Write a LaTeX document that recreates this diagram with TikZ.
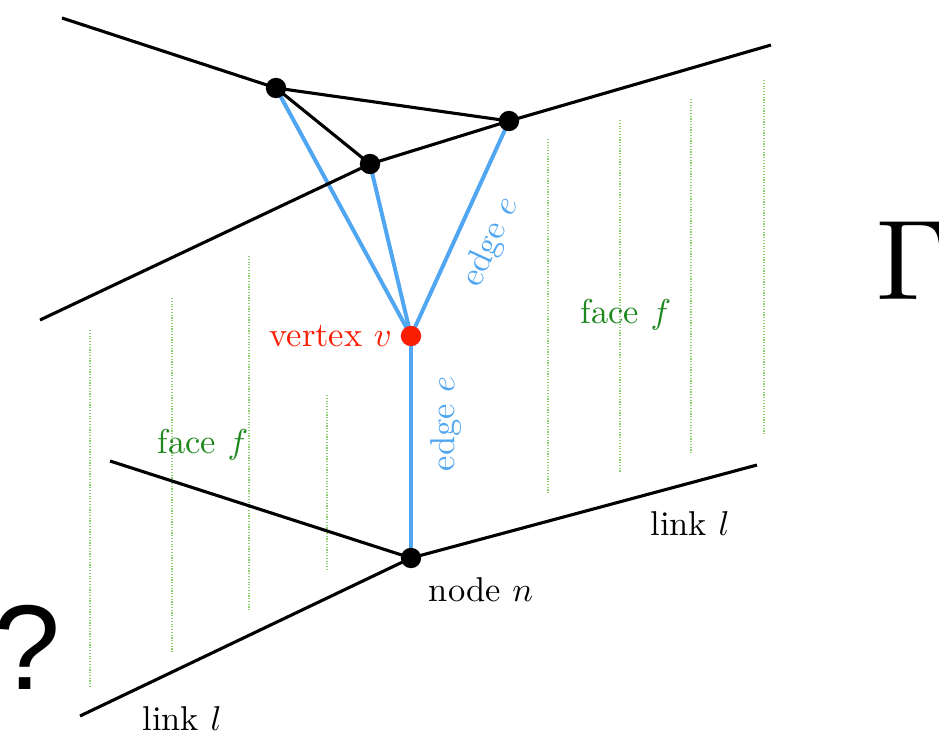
\documentclass[tikz,border=0pt]{standalone}
\usepackage{fontspec}
\newfontfamily\qfont{Liberation Sans}
\definecolor{eblue}{RGB}{80,166,240}
\definecolor{vred}{RGB}{250,30,5}
\definecolor{fgreen}{RGB}{30,135,30}
\definecolor{dgreen}{RGB}{140,205,110}
\begin{document}
\begin{tikzpicture}[x=0.29pt,y=-0.29pt,
  link/.style={draw=black,line width=0.9pt},
  edgeline/.style={draw=eblue,line width=1.15pt},
  facedots/.style={draw=dgreen,line width=0.35pt,dash pattern=on 0.35pt off 0.45pt},
  dot/.style={circle,fill=black,inner sep=0pt,minimum size=5.9pt},
  reddot/.style={circle,fill=vred,inner sep=0pt,minimum size=5.9pt},
  facelbl/.style={text=fgreen,inner sep=1pt},
  edgelbl/.style={text=eblue,inner sep=1pt},
  plainlbl/.style={text=black,inner sep=1pt}]
\useasboundingbox (0,0) rectangle (939,735);
% face hatching
\foreach \x/\a/\b in {90/330/688,172/298/652,249/256/610,327/395/570,548/139/493,620/120/472,691/99/453,764/80/434}
  \draw[facedots] (\x,\a) -- (\x,\b);
% coordinates
\coordinate (tl) at (62,18);
\coordinate (ml) at (40,320);
\coordinate (tr) at (771,45);
\coordinate (bl1) at (110,461);
\coordinate (bl2) at (80,716);
\coordinate (br) at (757,465);
\coordinate (Ac) at (276,88);
\coordinate (Bc) at (509,121);
\coordinate (Cc) at (370,164);
\coordinate (Vc) at (411,336);
\coordinate (Nc) at (411,558);
% blue edges (under dots)
\draw[edgeline] (Ac) -- (Vc);
\draw[edgeline] (Cc) -- (Vc);
\draw[edgeline] (Bc) -- (Vc);
\draw[edgeline] (Vc) -- (Nc);
% links
\draw[link] (tl) -- (Ac);
\draw[link] (Ac) -- (Bc);
\draw[link] (Ac) -- (Cc);
\draw[link] (ml) -- (Cc) -- (Bc) -- (tr);
\draw[link] (bl1) -- (Nc);
\draw[link] (bl2) -- (Nc);
\draw[link] (Nc) -- (br);
% dots
\node[dot] (A) at (Ac) {};
\node[dot] (B) at (Bc) {};
\node[dot] (C) at (Cc) {};
\node[reddot] (V) at (Vc) {};
\node[dot] (N) at (Nc) {};
% labels
\node[text=vred,anchor=east,inner sep=1pt] (vl) at (396,336) {vertex $v$};
\node[edgelbl,rotate=90] (el1) at (446,424) {edge $e$};
\node[edgelbl,rotate=65.5] (el2) at (491,242) {edge $e$};
\node[facelbl] (fr) at (626,315) {face $f$};
\node[facelbl] (fl) at (203,445) {face $f$};
\node[plainlbl] (lr) at (690,524) {link $l$};
\node[plainlbl] (lb) at (182,719) {link $l$};
\node[plainlbl] (nl) at (481,590) {node $n$};
\node[inner sep=0pt,scale=3.3] (G) at (912,261) {$\Gamma$};
\node[inner sep=0pt] (Q) at (27,647) {\fontsize{35}{42}\selectfont\qfont ?};
\end{tikzpicture}
\end{document}
